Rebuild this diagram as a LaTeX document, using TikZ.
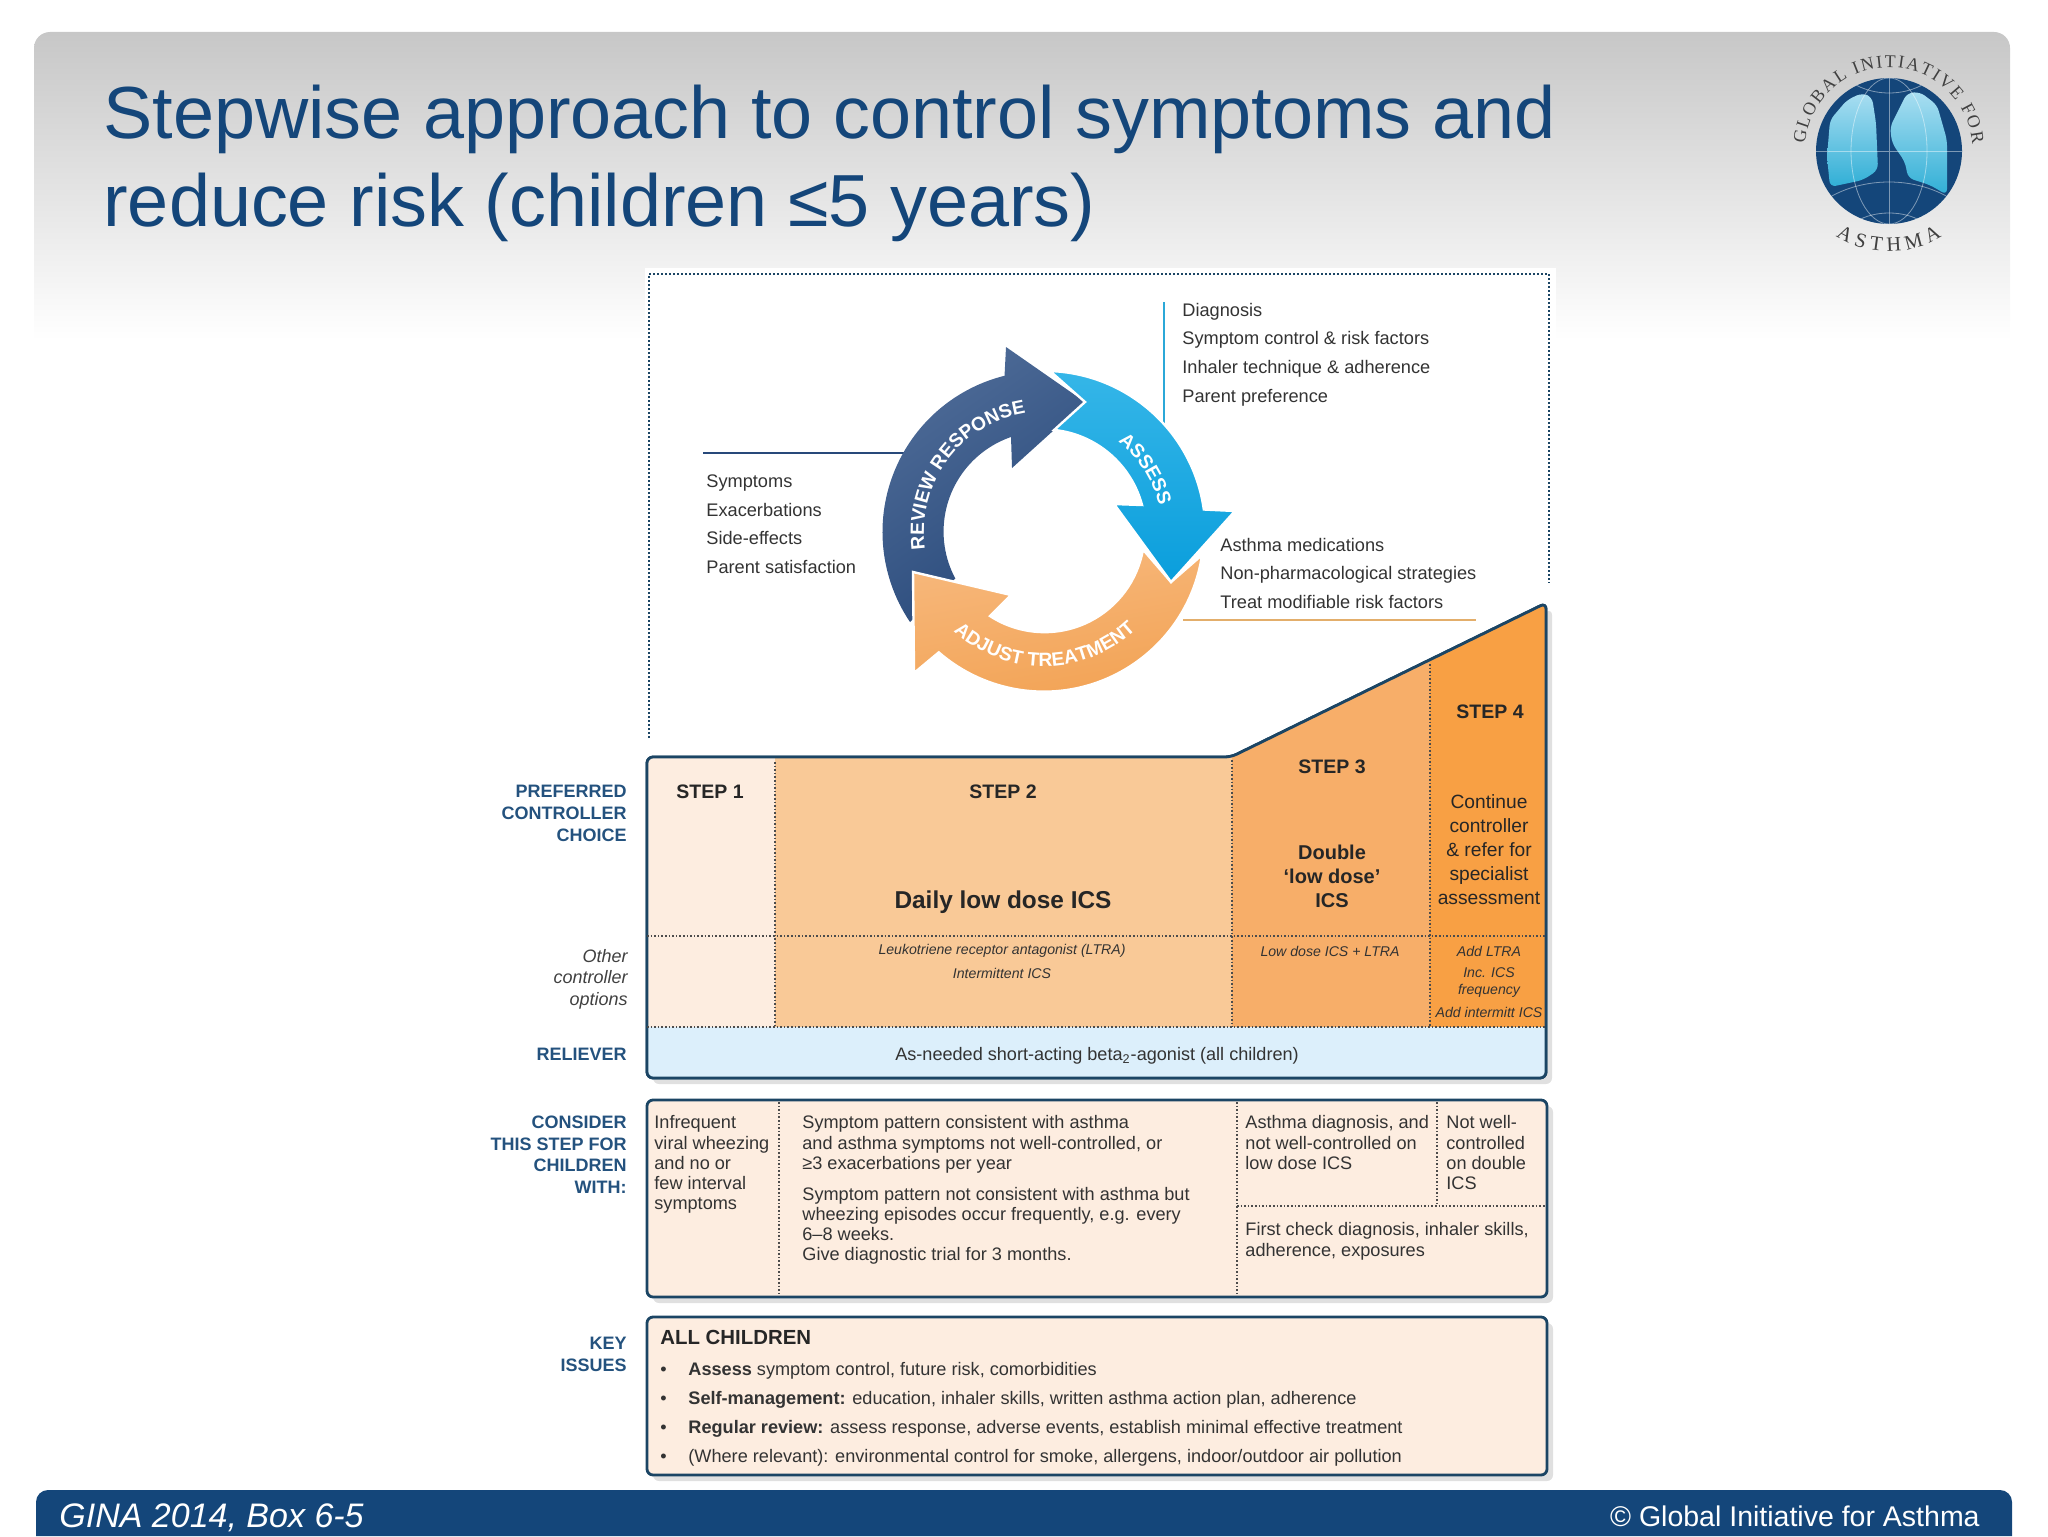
\documentclass[tikz,border=0pt]{standalone}
\usepackage{fontspec}
\setmainfont{Liberation Sans}
\newfontfamily\logofont{Liberation Serif}
\usetikzlibrary{decorations.text,shadows}
\definecolor{ginablue}{HTML}{14467A}
\definecolor{sideblue}{HTML}{24527E}
\definecolor{frameblue}{HTML}{1B4564}
\definecolor{stepone}{HTML}{FDEDE0}
\definecolor{steptwo}{HTML}{F9C997}
\definecolor{stepthree}{HTML}{F7AE69}
\definecolor{stepfour}{HTML}{F8A044}
\definecolor{relieverblue}{HTML}{DCEFFB}
\definecolor{reviewdark}{HTML}{28497A}
\definecolor{reviewlight}{HTML}{4F6C98}
\definecolor{assesslight}{HTML}{35B6E8}
\definecolor{assessdark}{HTML}{0A9EDC}
\definecolor{adjustlight}{HTML}{F7B87C}
\definecolor{adjustdark}{HTML}{F2A253}
\definecolor{lungtop}{HTML}{A9DEF1}
\definecolor{lungbase}{HTML}{30AFD6}
\definecolor{adjustline}{HTML}{E3AE6B}
\definecolor{assessline}{HTML}{2BA8D8}
\newcommand{\cycletext}{\fontsize{9.6}{11}\bfseries\selectfont\color{white}}
\newcommand{\chartoutline}{(647,757) -- (1231,757) -- (1546,603) -- (1546,1078) -- (647,1078) -- cycle}
\begin{document}
\begin{tikzpicture}[x=0.5pt,y=-0.5pt,
    headline/.style ={anchor=north west, inner sep=0pt, align=left, text=ginablue, font=\fontsize{36.9}{44}\selectfont},
    cycleitem/.style ={anchor=west, inner sep=0pt, text height=9pt, text depth=2.5pt, font=\fontsize{9.1}{11}\selectfont, text=black!80},
    sidelabel/.style ={anchor=east, inner sep=0pt, text height=9pt, text depth=2.5pt, font=\fontsize{9}{11}\bfseries\selectfont, text=sideblue},
    sideitalic/.style ={anchor=east, inner sep=0pt, text height=9pt, text depth=2.5pt, font=\fontsize{9}{11}\itshape\selectfont, text=black!75},
    stepcap/.style ={inner sep=0pt, font=\fontsize{9.75}{11}\bfseries\selectfont, text=black!85},
    doublecap/.style ={inner sep=0pt, align=center, font=\fontsize{10}{12}\bfseries\selectfont, text=black!85},
    stepnote/.style ={inner sep=0pt, align=center, font=\fontsize{9.6}{12}\selectfont, text=black!85},
    optioncap/.style ={inner sep=0pt, font=\fontsize{7.06}{9}\itshape\selectfont, text=black!80},
    boxtext/.style ={anchor=west, inner sep=0pt, text height=9pt, text depth=2.5pt, font=\fontsize{9.07}{11}\selectfont, text=black!80},
    panel/.style ={draw=frameblue, line width=1.4pt, rounded corners=3pt},
    shadowed/.style ={drop shadow={shadow xshift=3pt, shadow yshift=-3pt, fill=black, opacity=.12}},
    divider/.style ={draw=black!70, line width=.8pt, densely dotted},
    outerdots/.style ={draw=frameblue, line width=1pt, densely dotted},
    gridline/.style ={draw=white, opacity=.45, line width=.4pt}]
   \useasboundingbox (0,0) rectangle (2048,1536);
   % banner and footer
   \shade[top color=black!22, middle color=black!9, bottom color=white] (34,340) {[rounded corners=8pt] -- (34,32) -- (2010,32)} -- (2010,340) -- cycle;
   \fill[white] (645,268) rectangle (1556,345);
   \fill[ginablue] (36,1536) {[rounded corners=6pt] -- (36,1490) -- (2012,1490)} -- (2012,1536) -- cycle;
   \node[headline] (title) at (103,85) {Stepwise approach to control symptoms and\\reduce risk (children ≤5 years)};
   \node[anchor=west, inner sep=0pt, text=white, font=\fontsize{17}{19}\itshape\selectfont] (source) at (59,1518) {GINA 2014, Box 6-5};
   \node[anchor=east, inner sep=0pt, text=white, font=\fontsize{14.25}{16}\selectfont] (rights) at (1980,1516) {© Global Initiative for Asthma};
   % logo
   \fill[ginablue] (1889,151) circle[radius=73];
   \shade[top color=lungtop, bottom color=lungbase, rounded corners=3pt] (1862,93) -- (1872,97) -- (1876,123) -- (1878,170) -- (1863,180) -- (1830,187) -- (1827,157) -- (1830,120) -- (1847,100) -- cycle;
   \shade[top color=lungtop, bottom color=lungbase, rounded corners=3pt] (1907,93) -- (1920,92) -- (1937,105) -- (1947,140) -- (1947,195) -- (1930,185) -- (1908,178) -- (1905,162) -- (1892,143) -- (1890,127) -- (1900,107) -- cycle;
   \begin{scope}
     \clip (1889,151) circle[radius=73];
     \draw[gridline] (1816,151) -- (1962,151) (1889,78) -- (1889,224);
     \draw[gridline] (1889,151) circle[x radius=38, y radius=73];
     \draw[gridline] (1889,45) circle[x radius=60, y radius=48];
     \draw[gridline] (1889,260) circle[x radius=100, y radius=78];
     \draw[gridline] (1889,240) circle[x radius=45, y radius=27];
   \end{scope}
   \path[decorate, decoration={text along path, text align=fit to path, text={|\logofont\fontsize{9}{10}\selectfont\color{black!75}|GLOBAL INITIATIVE FOR}}] (1805,144) arc[start angle=185, end angle=355, radius=84];
   \path[decorate, decoration={text along path, text align=center, text={|\logofont\fontsize{10.2}{11}\selectfont\color{black!75}|A S T H M A}}] (1818,222) arc[start angle=135, end angle=45, radius=100];
   % cycle
   \node[cycleitem] (diagnosis) at (1182,310) {Diagnosis};
   \node[cycleitem] (control) at (1182,338) {Symptom control \& risk factors};
   \node[cycleitem] (inhaler) at (1182,367) {Inhaler technique \& adherence};
   \node[cycleitem] (preference) at (1182,396) {Parent preference};
   \node[cycleitem] (symptoms) at (706,481) {Symptoms};
   \node[cycleitem] (exacerbations) at (706,510) {Exacerbations};
   \node[cycleitem] (effects) at (706,538) {Side-effects};
   \node[cycleitem] (satisfaction) at (706,567) {Parent satisfaction};
   \node[cycleitem] (medications) at (1220,545) {Asthma medications};
   \node[cycleitem] (strategies) at (1220,573) {Non-pharmacological strategies};
   \node[cycleitem] (modifiable) at (1220,602) {Treat modifiable risk factors};
   \coordinate (reviewstart) at (703,453);
   \coordinate (reviewend) at (904,453);
   \coordinate (assessstart) at (1164,302);
   \coordinate (assessend) at (1164,425);
   \coordinate (adjuststart) at (1183,620);
   \coordinate (adjustend) at (1476,620);
   \draw[draw=reviewdark, line width=1.2pt] (reviewstart) -- (reviewend);
   \draw[draw=assessline, line width=.9pt] (assessstart) -- (assessend);
   \draw[draw=adjustline, line width=1.2pt] (adjuststart) -- (adjustend);
   \shade[bottom color=reviewdark, top color=reviewlight, shading angle=35] (910,622) arc[start angle=146, end angle=256, radius=161] -- (1006,347) -- (1085,402) -- (1012,468) -- (1011,437) arc[start angle=251, end angle=152, radius=100] -- cycle;
   \shade[bottom color=adjustdark, top color=adjustlight, shading angle=10, draw=white, line width=1.2pt] (1202,555) arc[start angle=8.4, end angle=131, radius=160] -- (914,673) -- (913,572) -- (1011,595) -- (990,616) arc[start angle=123, end angle=10, radius=100] -- (1171,582) -- cycle;
   \shade[top color=assesslight, bottom color=assessdark, draw=white, line width=1.2pt] (1050,371) arc[start angle=272, end angle=352, radius=161] -- (1235,511) -- (1171,582) -- (1114,504) -- (1142,505) arc[start angle=345, end angle=276, radius=102] -- (1085,402) -- cycle;
   \path[decorate, decoration={text along path, text align=center, text={|\cycletext|REVIEW RESPONSE}}] (928,563) arc[start angle=165, end angle=268, radius=120];
   \path[decorate, decoration={text along path, text align=center, text={|\cycletext|ASSESS}}] (1112,437) arc[start angle=305, end angle=350, radius=118];
   \path[decorate, decoration={text along path, text align=center, text={|\cycletext|ADJUST TREATMENT}}] (949,627) arc[start angle=135, end angle=44, radius=134];
   % dotted frame of the cycle
   \coordinate (frameleft) at (649,738);
   \coordinate (frametopleft) at (649,274);
   \coordinate (frametopright) at (1549,274);
   \coordinate (frameright) at (1549,583);
   \draw[outerdots] (frameleft) -- (frametopleft) -- (frametopright) -- (frameright);
   % step chart
   \path[panel, fill=white, shadowed] \chartoutline;
   \begin{scope}
     \clip[rounded corners=3pt] \chartoutline;
     \fill[stepone] (647,600) rectangle (775,1027);
     \fill[steptwo] (775,600) rectangle (1232,1027);
     \fill[stepthree] (1232,600) rectangle (1430,1027);
     \fill[stepfour] (1430,600) rectangle (1546,1027);
     \fill[relieverblue] (647,1027) rectangle (1546,1078);
   \end{scope}
   \draw[panel] \chartoutline;
   \coordinate (rowleft) at (647,936);
   \coordinate (rowright) at (1546,936);
   \coordinate (baseleft) at (647,1027);
   \coordinate (baseright) at (1546,1027);
   \coordinate (twotop) at (775,762);
   \coordinate (twobase) at (775,1027);
   \coordinate (threetop) at (1232,760);
   \coordinate (threebase) at (1232,1027);
   \coordinate (fourtop) at (1430,664);
   \coordinate (fourbase) at (1430,1027);
   \draw[divider] (rowleft) -- (rowright);
   \draw[divider] (baseleft) -- (baseright);
   \draw[divider] (twotop) -- (twobase);
   \draw[divider] (threetop) -- (threebase);
   \draw[divider] (fourtop) -- (fourbase);
   \node[stepcap] (stepA) at (710,792) {STEP 1};
   \node[stepcap] (stepB) at (1003,792) {STEP 2};
   \node[stepcap] (stepC) at (1332,767) {STEP 3};
   \node[stepcap] (stepD) at (1490,712) {STEP 4};
   \node[inner sep=0pt, font=\fontsize{12.2}{14}\bfseries\selectfont, text=black!85] (daily) at (1003,902) {Daily low dose ICS};
   \node[doublecap] (double) at (1332,876) {Double\\‘low dose’\\ICS};
   \node[stepnote] (continue) at (1489,850) {Continue\\controller\\\& refer for\\specialist\\assessment};
   \node[optioncap] (ltra) at (1002,951) {Leukotriene receptor antagonist (LTRA)};
   \node[optioncap] (intermittent) at (1002,973) {Intermittent ICS};
   \node[optioncap] (lowdose) at (1330,951) {Low dose ICS + LTRA};
   \node[optioncap] (addltra) at (1489,951) {Add LTRA};
   \node[optioncap] (inc) at (1489,973) {Inc. ICS};
   \node[optioncap] (frequency) at (1489,991) {frequency};
   \node[optioncap] (addint) at (1489,1012) {Add intermitt ICS};
   \node[inner sep=0pt, font=\fontsize{9.05}{11}\selectfont, text=black!80] (reliever) at (1097,1056) {As-needed short-acting beta\textsubscript{2}-agonist (all children)};
   % side labels
   \node[sidelabel] (preferred) at (627,791) {PREFERRED};
   \node[sidelabel] (controller) at (627,813) {CONTROLLER};
   \node[sidelabel] (choice) at (627,835) {CHOICE};
   \node[sideitalic] (other) at (628,956) {Other};
   \node[sideitalic] (controlleralt) at (628,977) {controller};
   \node[sideitalic] (options) at (628,999) {options};
   \node[sidelabel] (relieverlabel) at (627,1054) {RELIEVER};
   \node[sidelabel] (consider) at (627,1122) {CONSIDER};
   \node[sidelabel] (thisstep) at (627,1144) {THIS STEP FOR};
   \node[sidelabel] (children) at (627,1165) {CHILDREN};
   \node[sidelabel] (with) at (627,1187) {WITH:};
   \node[sidelabel] (key) at (627,1343) {KEY};
   \node[sidelabel] (issues) at (627,1365) {ISSUES};
   % consider box
   \draw[panel, fill=stepone, shadowed] (647,1100) rectangle (1547,1297);
   \coordinate (colAtop) at (779,1102);
   \coordinate (colAbase) at (779,1296);
   \coordinate (colBtop) at (1237,1102);
   \coordinate (colBbase) at (1237,1296);
   \coordinate (colCtop) at (1437,1102);
   \coordinate (colCbase) at (1437,1206);
   \coordinate (splitright) at (1546,1206);
   \draw[divider] (colAtop) -- (colAbase);
   \draw[divider] (colBtop) -- (colBbase);
   \draw[divider] (colCtop) -- (colCbase);
   \draw[divider] (colBtop |- colCbase) -- (splitright);
   \node[boxtext] (infrequent) at (654,1122) {Infrequent};
   \node[boxtext] (viral) at (654,1143) {viral wheezing};
   \node[boxtext] (andno) at (654,1163) {and no or};
   \node[boxtext] (few) at (654,1183) {few interval};
   \node[boxtext] (sympt) at (654,1203) {symptoms};
   \node[boxtext] (patternA) at (802,1122) {Symptom pattern consistent with asthma};
   \node[boxtext] (patternB) at (802,1143) {and asthma symptoms not well-controlled, or};
   \node[boxtext] (patternC) at (802,1163) {≥3 exacerbations per year};
   \node[boxtext] (patternD) at (802,1194) {Symptom pattern not consistent with asthma but};
   \node[boxtext] (patternE) at (802,1214) {wheezing episodes occur frequently, e.g. every};
   \node[boxtext] (patternF) at (802,1234) {6–8 weeks.};
   \node[boxtext] (patternG) at (802,1254) {Give diagnostic trial for 3 months.};
   \node[boxtext] (asthmaA) at (1245,1122) {Asthma diagnosis, and};
   \node[boxtext] (asthmaB) at (1245,1143) {not well-controlled on};
   \node[boxtext] (asthmaC) at (1245,1163) {low dose ICS};
   \node[boxtext] (notA) at (1446,1122) {Not well-};
   \node[boxtext] (notB) at (1446,1143) {controlled};
   \node[boxtext] (notC) at (1446,1163) {on double};
   \node[boxtext] (notD) at (1446,1183) {ICS};
   \node[boxtext] (firstA) at (1245,1229) {First check diagnosis, inhaler skills,};
   \node[boxtext] (firstB) at (1245,1250) {adherence, exposures};
   % key issues box
   \draw[panel, fill=stepone, shadowed] (647,1317) rectangle (1547,1475);
   \node[anchor=west, inner sep=0pt, font=\fontsize{10.2}{12}\bfseries\selectfont, text=black!85] (allchildren) at (660,1337) {ALL CHILDREN};
   \node[boxtext] (dotA) at (660,1369) {•};
   \node[boxtext] (dotB) at (660,1398) {•};
   \node[boxtext] (dotC) at (660,1427) {•};
   \node[boxtext] (dotD) at (660,1456) {•};
   \node[boxtext] (assess) at (688,1369) {\textbf{Assess} symptom control, future risk, comorbidities};
   \node[boxtext] (selfman) at (688,1398) {\textbf{Self-management:} education, inhaler skills, written asthma action plan, adherence};
   \node[boxtext] (regular) at (688,1427) {\textbf{Regular review:} assess response, adverse events, establish minimal effective treatment};
   \node[boxtext] (relevant) at (688,1456) {(Where relevant): environmental control for smoke, allergens, indoor/outdoor air pollution};
 \end{tikzpicture}
\end{document}
